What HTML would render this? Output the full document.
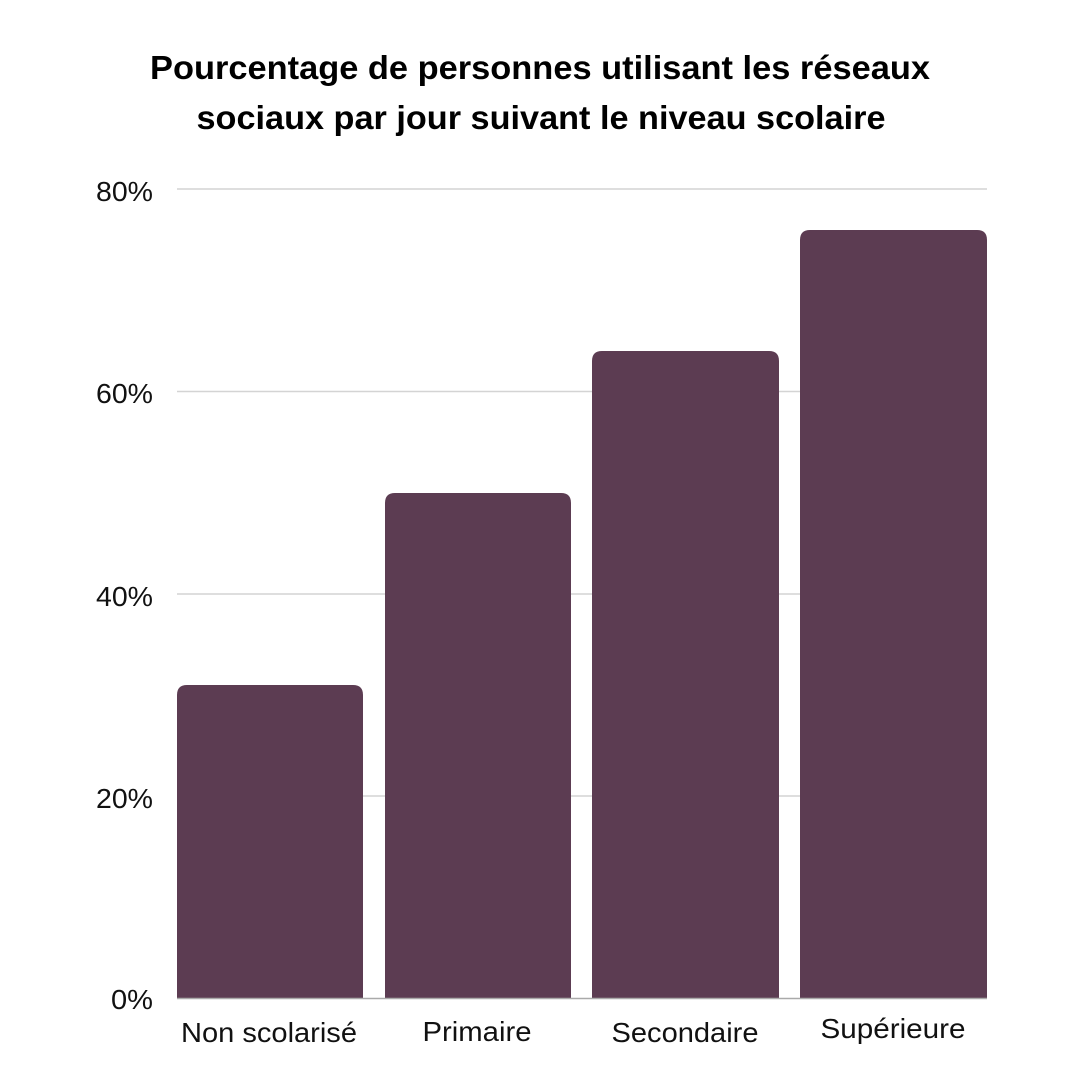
<!DOCTYPE html>
<html><head><meta charset="utf-8"><style>
html,body{margin:0;padding:0;background:#fff;}
svg{display:block;}
text{font-family:"Liberation Sans",sans-serif;}
</style></head><body>
<svg width="1080" height="1080" viewBox="0 0 1080 1080" xmlns="http://www.w3.org/2000/svg">
<rect width="1080" height="1080" fill="#fff"/>
<text x="540" y="79" text-anchor="middle" font-size="33" font-weight="bold" fill="#000" textLength="780" lengthAdjust="spacingAndGlyphs">Pourcentage de personnes utilisant les réseaux</text>
<text x="541" y="129" text-anchor="middle" font-size="33" font-weight="bold" fill="#000" textLength="689" lengthAdjust="spacingAndGlyphs">sociaux par jour suivant le niveau scolaire</text>
<g stroke="#d4d4d4" stroke-width="1.5">
<line x1="177" y1="189" x2="987" y2="189"/>
<line x1="177" y1="391.5" x2="987" y2="391.5"/>
<line x1="177" y1="594" x2="987" y2="594"/>
<line x1="177" y1="796" x2="987" y2="796"/>
</g>
<g fill="#5c3c52">
<path d="M177 998 V695 Q177 685 187 685 H353 Q363 685 363 695 V998 Z"/>
<path d="M385 998 V503 Q385 493 395 493 H561 Q571 493 571 503 V998 Z"/>
<path d="M592 998 V361 Q592 351 602 351 H769 Q779 351 779 361 V998 Z"/>
<path d="M800 998 V240 Q800 230 810 230 H977 Q987 230 987 240 V998 Z"/>
</g>
<line x1="177" y1="998.5" x2="987" y2="998.5" stroke="#aaa" stroke-width="1.5"/>
<g font-size="28" fill="#111" text-anchor="end">
<text x="153" y="201" textLength="57" lengthAdjust="spacingAndGlyphs">80%</text>
<text x="153" y="403" textLength="57" lengthAdjust="spacingAndGlyphs">60%</text>
<text x="153" y="606" textLength="57" lengthAdjust="spacingAndGlyphs">40%</text>
<text x="153" y="808" textLength="57" lengthAdjust="spacingAndGlyphs">20%</text>
<text x="153" y="1009" textLength="42" lengthAdjust="spacingAndGlyphs">0%</text>
</g>
<g font-size="28" fill="#111" text-anchor="middle">
<text x="269" y="1042" textLength="176" lengthAdjust="spacingAndGlyphs">Non scolarisé</text>
<text x="477" y="1041" textLength="109" lengthAdjust="spacingAndGlyphs">Primaire</text>
<text x="685" y="1042" textLength="147" lengthAdjust="spacingAndGlyphs">Secondaire</text>
<text x="893" y="1038" textLength="145" lengthAdjust="spacingAndGlyphs">Supérieure</text>
</g>
</svg>
</body></html>
